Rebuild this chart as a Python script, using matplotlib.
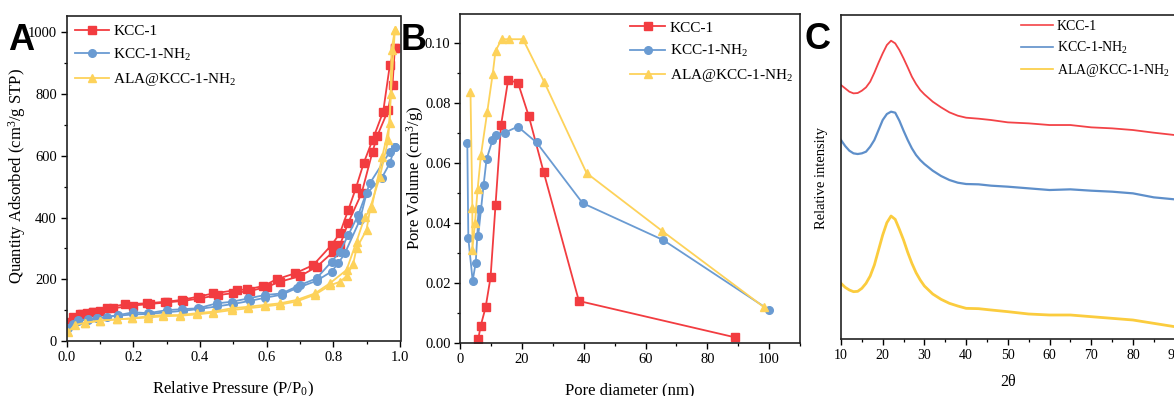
import matplotlib
matplotlib.use("Agg")
import matplotlib.pyplot as plt
from matplotlib.ticker import MultipleLocator

plt.rcParams['font.family'] = ['Liberation Serif', 'DejaVu Serif']
plt.rcParams['mathtext.fontset'] = 'custom'
plt.rcParams['mathtext.rm'] = 'Liberation Serif'
plt.rcParams['mathtext.it'] = 'Liberation Serif:italic'
plt.rcParams['mathtext.bf'] = 'Liberation Serif:bold'

# ---------------- Panel A: N2 isotherms ----------------
red_ads_p = [0.005, 0.02, 0.04, 0.06, 0.08, 0.10, 0.14, 0.20, 0.25, 0.30, 0.35, 0.40, 0.455, 0.50,
             0.55, 0.60, 0.64, 0.70, 0.75, 0.80, 0.82, 0.845, 0.885, 0.918, 0.932, 0.965, 0.978, 0.985]
red_ads_q = [63, 78, 88, 90, 95, 98, 106, 115, 120, 125, 130, 138, 149, 155,
             162, 175, 192, 210, 240, 289, 310, 383, 478, 613, 664, 748, 829, 948]
red_des_p = [0.985, 0.970, 0.950, 0.918, 0.892, 0.868, 0.845, 0.82, 0.795, 0.74, 0.685, 0.63,
             0.59, 0.54, 0.51, 0.44, 0.395, 0.345, 0.295, 0.24, 0.175, 0.122, 0.08, 0.045]
red_des_q = [948, 894, 743, 651, 578, 495, 424, 349, 311, 246, 219, 200,
             178, 167, 165, 154, 144, 133, 127, 122, 119, 108, 95, 88]

blue_ads_p = [0.005, 0.02, 0.035, 0.065, 0.09, 0.12, 0.155, 0.20, 0.25, 0.30, 0.35, 0.40, 0.45, 0.50,
              0.55, 0.595, 0.645, 0.69, 0.75, 0.795, 0.815, 0.835, 0.88, 0.90, 0.945, 0.97, 0.985]
blue_ads_q = [41, 55, 65, 70, 73, 78, 82, 86, 88, 93, 98, 104, 112, 120,
              130, 140, 150, 171, 195, 225, 252, 284, 392, 478, 527, 576, 630]
blue_des_p = [0.985, 0.97, 0.91, 0.875, 0.845, 0.82, 0.795, 0.75, 0.70, 0.645, 0.595, 0.545,
              0.495, 0.45, 0.395, 0.345, 0.30, 0.245, 0.20, 0.155, 0.09, 0.065, 0.035]
blue_des_q = [630, 613, 511, 408, 343, 289, 257, 203, 181, 154, 149, 138,
              127, 122, 106, 103, 100, 90, 93, 84, 73, 68, 68]

yel_ads_p = [0.005, 0.025, 0.055, 0.10, 0.15, 0.195, 0.245, 0.29, 0.34, 0.39, 0.44, 0.495, 0.545,
             0.595, 0.64, 0.69, 0.745, 0.79, 0.82, 0.84, 0.86, 0.87, 0.90, 0.912, 0.94, 0.965, 0.973, 0.985]
yel_ads_q = [30, 52, 59, 66, 70, 73, 76, 80, 82, 86, 92, 100, 106,
             112, 118, 128, 150, 180, 192, 210, 250, 300, 360, 435, 532, 651, 800, 1007]
yel_des_p = [0.985, 0.975, 0.97, 0.947, 0.915, 0.895, 0.87, 0.84, 0.79, 0.745, 0.69, 0.64, 0.595,
             0.545, 0.495, 0.44, 0.39, 0.34, 0.29, 0.245, 0.195, 0.15, 0.10, 0.055]
yel_des_q = [1007, 943, 705, 597, 430, 403, 322, 230, 187, 154, 133, 122, 117,
             111, 106, 95, 90, 84, 84, 81, 73, 70, 66, 59]

# ---------------- Panel B: pore size distribution ----------------
red_d = [5.8, 6.6, 8.2, 9.8, 11.4, 13.2, 15.5, 18.7, 22.2, 27.0, 38.4, 88.9]
red_v = [0.0013, 0.0058, 0.012, 0.022, 0.046, 0.0727, 0.0878, 0.0867, 0.0756, 0.057, 0.0141, 0.0020]
blue_d = [2.27, 2.6, 4.0, 5.0, 6.0, 5.8, 7.55, 8.5, 10.4, 11.4, 14.5, 18.6, 24.7, 39.6, 65.7, 100.0]
blue_v = [0.0667, 0.035, 0.0208, 0.0269, 0.0447, 0.0358, 0.0528, 0.0613, 0.0676, 0.0694, 0.0702,
          0.0722, 0.0669, 0.0467, 0.0344, 0.0111]
yel_d = [3.3, 3.9, 3.9, 4.75, 5.6, 6.7, 8.7, 10.5, 11.4, 13.4, 15.7, 20.3, 27.1, 40.9, 65.4, 98.4]
yel_v = [0.0836, 0.045, 0.0311, 0.040, 0.0513, 0.0628, 0.0769, 0.0898, 0.0974, 0.1013, 0.1013,
         0.1013, 0.0872, 0.0567, 0.0374, 0.012]

# ---------------- Panel C: XRD ----------------
two_theta = [10, 11, 12, 13, 14, 15, 16, 17, 18, 19, 20, 21, 22, 23, 24, 25, 26, 27, 28, 29, 30,
             32, 34, 36, 38, 40, 43, 46, 50, 55, 60, 65, 70, 75, 80, 85, 90]
xrd_red = [762, 752, 742, 737, 738, 745, 755, 772, 799, 829, 857, 882, 895, 887, 867, 842, 815, 787,
           765, 747, 734, 712, 695, 680, 670, 664, 661, 657, 650, 647, 642, 642, 635, 632, 627, 619, 612]
xrd_blue = [597, 579, 565, 557, 555, 557, 562, 577, 597, 627, 657, 675, 682, 679, 655, 625, 597, 572,
            552, 537, 525, 505, 489, 477, 469, 465, 464, 460, 457, 452, 447, 449, 445, 442, 437, 425, 419]
xrd_yel = [167, 155, 147, 142, 143, 152, 167, 189, 222, 267, 312, 349, 369, 359, 329, 297, 260, 227,
           199, 177, 159, 135, 119, 107, 99, 92, 91, 87, 82, 75, 72, 72, 67, 62, 57, 47, 37]

labels = ['KCC-1', 'KCC-1-NH$_2$', 'ALA@KCC-1-NH$_2$']
RED = '#f23c40'
BLUE = '#6a9bd2'
YEL = '#fdd25a'
XRED = '#f34347'
XBLUE = '#5e8fca'
XYEL = '#fbcc3e'

fig = plt.figure(figsize=(11.74, 3.96), dpi=100)
W, H = 1174.0, 396.0

def ax_at(l, r, t, b):
    return fig.add_axes([l / W, 1 - b / H, (r - l) / W, (b - t) / H])

def style(ax):
    for s in ax.spines.values():
        s.set_linewidth(1.2)
        s.set_color('#222222')
    ax.tick_params(which='major', direction='out', length=4, width=1.0, labelsize=10.5, pad=3)
    ax.tick_params(which='minor', direction='out', length=2.5, width=0.9)

def label_coords(l, r, t, b, x_px, y_px):
    return ((x_px - l) / (r - l), (b - y_px) / (b - t))

# Panel A
A_box = (66.7, 400.5, 16, 341)
axA = ax_at(*A_box)
ms = 5.5
axA.plot(red_ads_p, red_ads_q, '-s', color=RED, ms=ms, lw=1.3, label=labels[0])
axA.plot(red_des_p, red_des_q, '-s', color=RED, ms=ms, lw=1.3)
axA.plot(blue_ads_p, blue_ads_q, '-o', color=BLUE, ms=ms, lw=1.3, label=labels[1])
axA.plot(blue_des_p, blue_des_q, '-o', color=BLUE, ms=ms, lw=1.3)
axA.plot(yel_ads_p, yel_ads_q, '-^', color=YEL, ms=ms + 0.5, lw=1.3, label=labels[2])
axA.plot(yel_des_p, yel_des_q, '-^', color=YEL, ms=ms + 0.5, lw=1.3)
axA.set_xlim(0, 1.002)
axA.set_ylim(0, 1053)
axA.xaxis.set_minor_locator(MultipleLocator(0.1))
axA.yaxis.set_major_locator(MultipleLocator(200))
axA.yaxis.set_minor_locator(MultipleLocator(100))
axA.set_xticks([0, 0.2, 0.4, 0.6, 0.8, 1.0])
axA.set_xticklabels(['0.0', '0.2', '0.4', '0.6', '0.8', '1.0'])
style(axA)
axA.set_xlabel('Relative Pressure (P/P$_0$)', fontsize=12)
axA.xaxis.set_label_coords(*label_coords(*A_box, 233, 380))
axA.set_ylabel('Quantity Adsorbed (cm$^3$/g STP)', fontsize=12)
axA.yaxis.set_label_coords(*label_coords(*A_box, 28, 176))
axA.legend(loc='upper left', bbox_to_anchor=(0.0, 1.0), frameon=False, fontsize=11,
           handlelength=2.2, handletextpad=0.3, labelspacing=0.55, borderaxespad=0.15)

# Panel B
B_box = (460.3, 800, 14, 343.3)
axB = ax_at(*B_box)
axB.plot(red_d, red_v, '-s', color=RED, ms=ms, lw=1.3, label=labels[0])
axB.plot(blue_d, blue_v, '-o', color=BLUE, ms=ms, lw=1.3, label=labels[1])
axB.plot(yel_d, yel_v, '-^', color=YEL, ms=ms + 0.5, lw=1.3, label=labels[2])
axB.set_xlim(0, 110)
axB.set_ylim(0, 0.1097)
axB.set_xticks([0, 20, 40, 60, 80, 100])
axB.xaxis.set_minor_locator(MultipleLocator(10))
axB.set_yticks([0, 0.02, 0.04, 0.06, 0.08, 0.10])
axB.set_yticklabels(['0.00', '0.02', '0.04', '0.06', '0.08', '0.10'])
axB.yaxis.set_minor_locator(MultipleLocator(0.01))
style(axB)
axB.set_xlabel('Pore diameter (nm)', fontsize=12)
axB.xaxis.set_label_coords(*label_coords(*B_box, 630, 382))
axB.set_ylabel('Pore Volume (cm$^3$/g)', fontsize=12)
axB.yaxis.set_label_coords(*label_coords(*B_box, 426, 178))
axB.legend(loc='upper right', bbox_to_anchor=(1.0, 1.0), frameon=False, fontsize=11,
           handlelength=2.3, handletextpad=0.3, labelspacing=0.55, borderaxespad=0.05)

# Panel C
C_box = (841, 1174.6, 14.7, 339)
axC = ax_at(*C_box)
axC.plot(two_theta, xrd_red, '-', color=XRED, lw=1.3, label=labels[0])
axC.plot(two_theta, xrd_blue, '-', color=XBLUE, lw=1.6, label=labels[1])
axC.plot(two_theta, xrd_yel, '-', color=XYEL, lw=2.0, label=labels[2])
axC.set_xlim(10, 90)
axC.set_ylim(0, 973)
axC.set_xticks([10, 20, 30, 40, 50, 60, 70, 80, 90])
axC.xaxis.set_minor_locator(MultipleLocator(5))
axC.set_yticks([])
style(axC)
axC.tick_params(axis='x', labelsize=10)
axC.set_xlabel('2θ', fontsize=11.5)
axC.xaxis.set_label_coords(*label_coords(*C_box, 1008, 374))
axC.set_ylabel('Relative intensity', fontsize=10.5)
axC.yaxis.set_label_coords(*label_coords(*C_box, 828, 178))
leg = axC.legend(loc='upper right', bbox_to_anchor=(1.0, 1.0), frameon=False, fontsize=10,
                 handlelength=2.3, handletextpad=0.25, labelspacing=0.45, borderaxespad=0.0)
for h in leg.get_lines():
    h.set_linewidth(1.2)

# Panel letters
for txt, x, y in [('A', 8, 50), ('B', 401, 50), ('C', 805, 49)]:
    fig.text(x / W, 1 - y / H, txt, fontsize=26, fontweight='bold',
             family=['Liberation Sans', 'DejaVu Sans'], ha='left', va='baseline')

fig.savefig('out.png', dpi=100)
